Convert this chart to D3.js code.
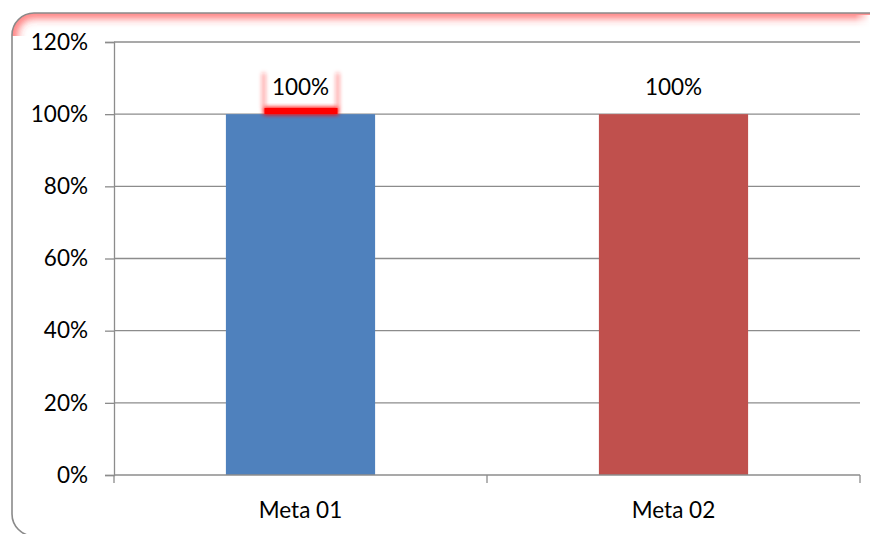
<!DOCTYPE html>
<html>
<head>
<meta charset="utf-8">
<script src="https://cdn.jsdelivr.net/npm/d3@7/dist/d3.min.js"></script>
<style>
  html, body { margin: 0; padding: 0; background: #fff; }
  svg text { font-family: Lato, "Open Sans", "Liberation Sans", sans-serif; fill: #000; }
</style>
</head>
<body>
<svg id="chart" width="870" height="534"></svg>
<script>
// Goal attainment per target
const categories = ["Meta 01", "Meta 02"];
const values = [1.0, 1.0];
const barColors = ["#4F81BD", "#C0504D"];
const yTicks = [0, 0.2, 0.4, 0.6, 0.8, 1.0, 1.2];

const svg = d3.select("#chart");
const W = 870, H = 534;
const plot = { left: 114, right: 860, top: 42, bottom: 475 };
const FS = 22.5;
const box = { x: 12, y: 13, w: 900, h: 523, r: 22 };

const defs = svg.append("defs");
defs.append("filter").attr("id", "glow")
  .attr("x", "-20%").attr("y", "-50%").attr("width", "140%").attr("height", "200%")
  .append("feGaussianBlur").attr("stdDeviation", 2.2);
defs.append("filter").attr("id", "softGlow")
  .attr("x", "-10%").attr("y", "-100%").attr("width", "120%").attr("height", "400%")
  .append("feGaussianBlur").attr("stdDeviation", 4);
defs.append("clipPath").attr("id", "frameClip")
  .append("rect").attr("x", box.x).attr("y", box.y).attr("width", box.w).attr("height", box.h).attr("rx", box.r);

// Chart area frame with red highlight along the top edge
const frame = svg.append("g");
frame.append("rect")
  .attr("x", box.x).attr("y", box.y).attr("width", box.w).attr("height", box.h).attr("rx", box.r)
  .attr("fill", "#fff");
const glowG = frame.append("g").attr("clip-path", "url(#frameClip)");
glowG.append("rect")
  .attr("x", box.x).attr("y", box.y).attr("width", box.w).attr("height", box.h).attr("rx", box.r)
  .attr("fill", "none").attr("stroke", "#ff3b3b").attr("stroke-width", 10)
  .attr("stroke-opacity", 0.75)
  .attr("filter", "url(#softGlow)");
// keep the glow to the top band only, fading out at the right edge
glowG.append("rect")
  .attr("x", 0).attr("y", 36).attr("width", W).attr("height", H).attr("fill", "#fff");
const fade = defs.append("linearGradient").attr("id", "rightFade");
fade.append("stop").attr("offset", "0%").attr("stop-color", "#fff").attr("stop-opacity", 0);
fade.append("stop").attr("offset", "100%").attr("stop-color", "#fff").attr("stop-opacity", 1);
glowG.append("rect").attr("x", 855).attr("y", 15).attr("width", 15).attr("height", 25).attr("fill", "url(#rightFade)");
frame.append("rect")
  .attr("x", box.x).attr("y", box.y).attr("width", box.w).attr("height", box.h).attr("rx", box.r)
  .attr("fill", "none").attr("stroke", "#8a8a8a").attr("stroke-width", 1.6);

const x = d3.scaleBand().domain(categories).range([plot.left, plot.right]).paddingInner(0.6).paddingOuter(0.3);
const y = d3.scaleLinear().domain([0, 1.2]).range([plot.bottom, plot.top]);

// Gridlines
svg.append("g").selectAll("line").data(yTicks.filter(d => d > 0)).join("line")
  .attr("x1", plot.left).attr("x2", plot.right)
  .attr("y1", d => y(d)).attr("y2", d => y(d))
  .attr("stroke", "#8c8c8c").attr("stroke-width", 1.3);

// Bars
svg.append("g").selectAll("rect").data(values).join("rect")
  .attr("x", (d, i) => x(categories[i]))
  .attr("width", x.bandwidth())
  .attr("y", d => y(d))
  .attr("height", d => y(0) - y(d))
  .attr("fill", (d, i) => barColors[i]);

// Y axis
const yAxis = svg.append("g").attr("transform", `translate(${plot.left},0)`)
  .call(d3.axisLeft(y).tickValues(yTicks).tickFormat(d3.format(".0%")).tickSize(9).tickPadding(17));
yAxis.select(".domain").attr("stroke", "#8c8c8c").attr("stroke-width", 1.3);
yAxis.selectAll(".tick line").attr("stroke", "#8c8c8c").attr("stroke-width", 1.3);
yAxis.selectAll(".tick text").attr("font-size", FS).attr("fill", "#000")
  .style("font-family", "Lato, 'Open Sans', sans-serif");

// X axis with ticks at category boundaries
const xAxisG = svg.append("g");
xAxisG.append("line").attr("x1", plot.left).attr("x2", plot.right)
  .attr("y1", y(0)).attr("y2", y(0)).attr("stroke", "#8c8c8c").attr("stroke-width", 1.6);
const step = (plot.right - plot.left) / categories.length;
xAxisG.selectAll("line.tk").data(d3.range(categories.length + 1)).join("line").attr("class", "tk")
  .attr("x1", i => plot.left + i * step).attr("x2", i => plot.left + i * step)
  .attr("y1", y(0)).attr("y2", y(0) + 8)
  .attr("stroke", "#8c8c8c").attr("stroke-width", 1.3);
xAxisG.selectAll("text").data(categories).join("text")
  .attr("x", d => x(d) + x.bandwidth() / 2).attr("y", 518)
  .attr("text-anchor", "middle").attr("font-size", FS).text(d => d);

// Data labels
const fmt = d3.format(".0%");
const labels = svg.append("g");
// highlight around the first label
const lx = x(categories[0]) + x.bandwidth() / 2;
const hl = labels.append("g").attr("filter", "url(#glow)");
hl.append("rect").attr("x", lx - 38).attr("y", 73).attr("width", 2.5).attr("height", 35).attr("fill", "#ff2020").attr("opacity", 0.6);
hl.append("rect").attr("x", lx + 36).attr("y", 73).attr("width", 2.5).attr("height", 35).attr("fill", "#ff2020").attr("opacity", 0.6);
labels.append("rect").attr("x", lx - 37).attr("y", 107).attr("width", 75).attr("height", 8)
  .attr("fill", "#ff0000").attr("filter", "url(#glow)");
labels.append("rect").attr("x", lx - 36).attr("y", 108).attr("width", 73).attr("height", 6).attr("fill", "#ff0000");

labels.selectAll("text").data(values).join("text")
  .attr("x", (d, i) => x(categories[i]) + x.bandwidth() / 2)
  .attr("y", d => y(d) - 19)
  .attr("text-anchor", "middle").attr("font-size", FS)
  .text(d => fmt(d));
</script>
</body>
</html>
